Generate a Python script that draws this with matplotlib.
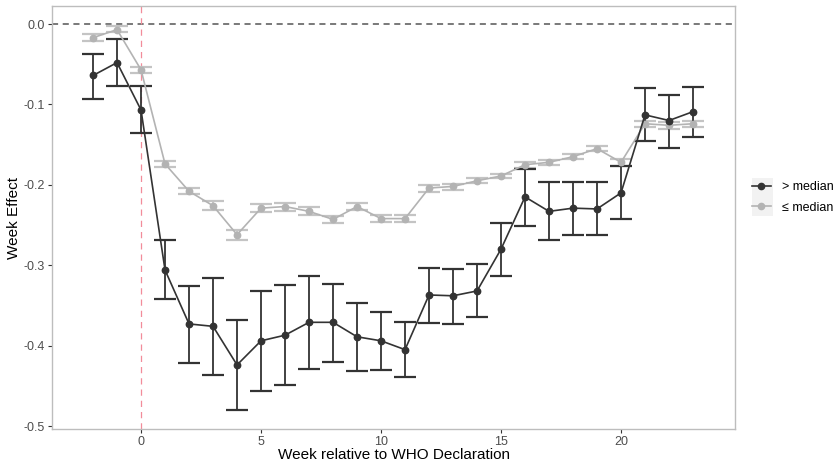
import matplotlib
matplotlib.use("Agg")
import matplotlib.pyplot as plt
from matplotlib.lines import Line2D
from matplotlib.patches import Rectangle

plt.rcParams['font.family'] = ['Liberation Sans', 'DejaVu Sans']

weeks = list(range(-2, 24))

# > median group
hi_est = [-0.064, -0.048, -0.107, -0.306, -0.373, -0.376, -0.424, -0.394, -0.387, -0.371,
          -0.371, -0.389, -0.394, -0.405, -0.337, -0.338, -0.332, -0.280, -0.215, -0.233,
          -0.229, -0.230, -0.210, -0.113, -0.120, -0.109]
hi_low = [-0.093, -0.077, -0.136, -0.342, -0.421, -0.437, -0.480, -0.456, -0.449, -0.429,
          -0.420, -0.431, -0.430, -0.439, -0.372, -0.373, -0.365, -0.313, -0.251, -0.269,
          -0.262, -0.263, -0.243, -0.145, -0.154, -0.140]
hi_up = [-0.037, -0.019, -0.077, -0.269, -0.326, -0.316, -0.368, -0.332, -0.325, -0.314,
         -0.323, -0.347, -0.358, -0.370, -0.304, -0.305, -0.299, -0.247, -0.180, -0.197,
         -0.196, -0.197, -0.176, -0.080, -0.088, -0.078]

# <= median group
lo_est = [-0.017, -0.007, -0.057, -0.174, -0.208, -0.226, -0.262, -0.229, -0.227, -0.233,
          -0.243, -0.227, -0.242, -0.242, -0.204, -0.202, -0.195, -0.189, -0.175, -0.172,
          -0.165, -0.155, -0.172, -0.124, -0.126, -0.124]
lo_low = [-0.021, -0.010, -0.061, -0.178, -0.212, -0.231, -0.268, -0.234, -0.232, -0.237,
          -0.247, -0.231, -0.246, -0.246, -0.209, -0.206, -0.198, -0.192, -0.179, -0.175,
          -0.168, -0.158, -0.176, -0.128, -0.130, -0.128]
lo_up = [-0.013, -0.003, -0.053, -0.170, -0.204, -0.220, -0.256, -0.224, -0.222, -0.228,
         -0.239, -0.223, -0.238, -0.238, -0.200, -0.199, -0.192, -0.186, -0.171, -0.169,
         -0.162, -0.152, -0.168, -0.121, -0.122, -0.120]

dark = '#333333'
light = '#b3b3b3'

fig = plt.figure(figsize=(8.36, 4.62), dpi=100)
ax = fig.add_axes([0.0622, 0.0714, 0.8170, 0.9156])

ax.axhline(0, color='#555555', lw=1.1, ls=(0, (4, 3)), zorder=1)
ax.axvline(0, color='#f28c9a', lw=0.9, ls=(0, (5, 4)), zorder=1)

for est, low, up, col, ecol in [(lo_est, lo_low, lo_up, light, '#c4c4c4'),
                                (hi_est, hi_low, hi_up, dark, '#333333')]:
    yerr = [[e - l for e, l in zip(est, low)], [u - e for e, u in zip(est, up)]]
    ax.errorbar(weeks, est, yerr=yerr, fmt='none', ecolor=ecol, elinewidth=1.3,
                capsize=7.6, capthick=1.6, zorder=2)
    ax.plot(weeks, est, color=col, lw=1.2, marker='o', ms=4.6, zorder=3)

ax.set_xlim(-3.71, 24.75)
ax.set_ylim(-0.5037, 0.0224)
ax.set_xticks([0, 5, 10, 15, 20])
ax.set_yticks([0.0, -0.1, -0.2, -0.3, -0.4, -0.5])
ax.set_yticklabels(['0.0', '-0.1', '-0.2', '-0.3', '-0.4', '-0.5'])
ax.tick_params(colors='#333333', labelcolor='#4d4d4d', labelsize=9, length=3, width=0.8,
               pad=2)
for s in ax.spines.values():
    s.set_color('#bdbdbd')
    s.set_linewidth(1.0)
ax.set_xlabel('Week relative to WHO Declaration', fontsize=11, labelpad=0)
ax.set_ylabel('Week Effect', fontsize=11, labelpad=2)

# legend key backgrounds
for ytop in (178, 197):
    fig.patches.append(Rectangle((752 / 836, 1 - (ytop + 19) / 462), 21 / 836, 19 / 462,
                                 transform=fig.transFigure, facecolor='#f2f2f2',
                                 edgecolor='none', zorder=0))

handles = [Line2D([], [], color=dark, marker='o', ms=4.5, lw=1.2),
           Line2D([], [], color=light, marker='o', ms=4.5, lw=1.2)]
fig.legend(handles, ['> median', '≤ median'], loc='center left',
           bbox_to_anchor=(0.8995, 0.5725), frameon=False, fontsize=9,
           handlelength=1.5, handletextpad=0.9, labelspacing=0.65, borderaxespad=0,
           borderpad=0)

fig.savefig('out.png', dpi=100)
